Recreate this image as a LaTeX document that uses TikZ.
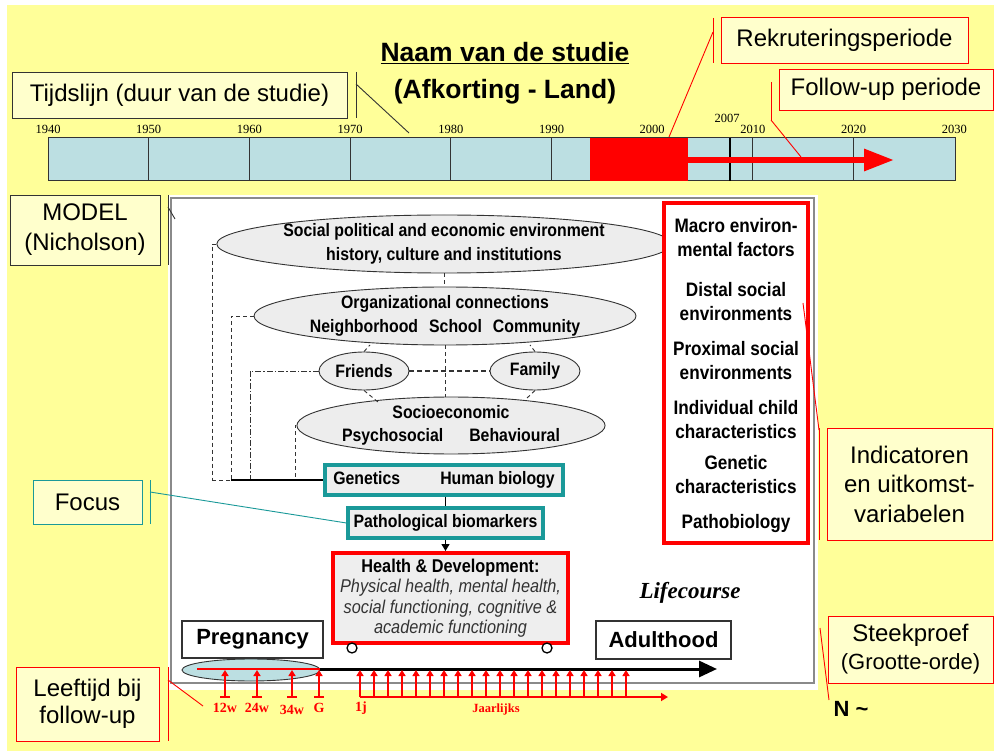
\documentclass[tikz,border=0pt]{standalone}
\usepackage{fontspec}
\setmainfont{Liberation Sans}
\newfontfamily\serifyr{Liberation Serif}
\newfontfamily\nar[FakeStretch=0.88]{Liberation Sans}
\usetikzlibrary{arrows.meta,shapes.geometric,calc}
\definecolor{bgyellow}{HTML}{FFFF99}
\definecolor{lblfill}{HTML}{FFFFCC}
\definecolor{barblue}{HTML}{BCDFE2}
\definecolor{tealc}{HTML}{1A9999}
\definecolor{ellgray}{HTML}{EDEDED}
\definecolor{boxgray}{HTML}{EEEEEE}
\definecolor{darkline}{HTML}{333333}
\definecolor{framegray}{HTML}{8A8A8A}
\definecolor{itgray}{HTML}{333333}
\newcommand{\hdit}[1]{{\color{itgray}\itshape #1}}
\tikzset{
 lbl/.style={draw=darkline, fill=lblfill, line width=0.9pt, inner sep=0pt, align=center, font=\fontsize{24}{29}\selectfont},
 lblred/.style={lbl, draw=red},
 lblteal/.style={lbl, draw=tealc},
 accent/.style={draw=darkline, line width=0.9pt},
 accred/.style={draw=red, line width=0.9pt},
 accteal/.style={draw=tealc, line width=0.9pt},
 ell/.style={ellipse, draw=darkline, fill=ellgray, line width=0.9pt, inner sep=0pt, align=center, font=\nar\bfseries\fontsize{18}{23.5}\selectfont},
 tealbox/.style={draw=tealc, line width=3.2pt, fill=boxgray, inner sep=0pt, font=\nar\bfseries\fontsize{18}{22}\selectfont},
 dsh/.style={draw=darkline, line width=0.9pt, dash pattern=on 4pt off 3pt},
 dshdot/.style={draw=darkline, line width=0.9pt, dash pattern=on 6pt off 2pt on 1.5pt off 2pt},
 rcol/.style={align=center, inner sep=0pt, font=\nar\bfseries\fontsize{19.5}{24}\selectfont},
 yr/.style={font=\serifyr\fontsize{12.5}{14}\selectfont, inner sep=0pt},
 redlbl/.style={text=red, font=\serifyr\bfseries\fontsize{14}{16}\selectfont, inner sep=0pt},
 uparr/.style={draw=red, line width=1.8pt, -{Triangle[length=6pt,width=7pt]}},
 lifebox/.style={draw=darkline, fill=white, line width=1.1pt, inner sep=0pt, font=\bfseries\fontsize{22}{26}\selectfont},
}
\begin{document}
\begin{tikzpicture}[x=1pt,y=-1pt]
\useasboundingbox (0,0) rectangle (994,751);
\fill[white] (0,0) rectangle (994,751);
\fill[bgyellow] (7,5) rectangle (994,751);

% title
\node[align=center, inner sep=0pt, font=\bfseries\fontsize{26.5}{37}\selectfont] (title) at (505,73) {\underline{Naam van de studie}\\(Afkorting - Land)};

% timeline
\node[draw=darkline, fill=barblue, line width=1pt, minimum width=907pt, minimum height=43pt, inner sep=0pt] (tl) at (501.5,159.5) {};
\foreach \i/\yy in {0/1940,1/1950,2/1960,3/1970,4/1980,5/1990,6/2000,7/2010,8/2020,9/2030} {
  \pgfmathsetmacro\xx{48+100.7*\i}
  \node[yr] (y\yy) at (\xx,129) {\yy};
}
\foreach \i in {1,...,8} {
  \pgfmathsetmacro\xx{48+100.7*\i}
  \coordinate (dt\i) at (\xx,138);
  \coordinate (db\i) at (\xx,181);
  \draw[darkline, line width=1pt] (dt\i) -- (db\i);
}
\node[fill=red, minimum width=98pt, minimum height=43pt, inner sep=0pt] (rec) at (639,159.5) {};
\coordinate (s7t) at (730,138);
\coordinate (s7b) at (730,181);
\draw[black, line width=2pt] (s7t) -- (s7b);
\node[yr] (y2007) at (727,118) {2007};
\coordinate (fuend) at (894,160);
\draw[red, line width=6pt, -{Triangle[length=30pt,width=21pt]}] (rec.east |- fuend) -- (fuend);

% callouts top
\node[lbl, minimum width=335pt, minimum height=46pt] (tij) at (179.5,95) {Tijdslijn (duur van de studie)};
\coordinate (tja) at (356,72); \coordinate (tjb) at (356,118);
\coordinate (tjc) at (356,84); \coordinate (tjd) at (409,133);
\draw[accent] (tja) -- (tjb);
\draw[accent] (tjc) -- (tjd);

\node[lblred, minimum width=247pt, minimum height=46pt] (rek) at (844.5,40) {Rekruteringsperiode};
\coordinate (rka) at (713,18); \coordinate (rkb) at (713,63);
\coordinate (rkc) at (713,32); \coordinate (rkd) at (669,137);
\draw[accred] (rka) -- (rkb);
\draw[accred] (rkc) -- (rkd);

\node[lblred, minimum width=214pt, minimum height=41pt] (fol) at (886,89.5) {Follow-up periode};
\coordinate (foa) at (771,82); \coordinate (fob) at (771,120);
\coordinate (fod) at (801,157);
\draw[accred] (foa) -- (fob);
\draw[accred] (fob) -- (fod);

% model frame
\node[fill=white, minimum width=650pt, minimum height=495pt, inner sep=0pt] (mwhite) at (493,442.5) {};
\node[draw=framegray, line width=1.2pt, minimum width=643pt, minimum height=485pt, inner sep=0pt] (mframe) at (492.5,440.5) {};

\node[lbl, minimum width=150pt, minimum height=70pt, font=\fontsize{24}{30}\selectfont] (mod) at (85,230) {MODEL\\(Nicholson)};
\coordinate (moa) at (168,195); \coordinate (mob) at (168,265);
\coordinate (moc) at (168,207); \coordinate (mod2) at (175,219);
\draw[accent] (moa) -- (mob);
\draw[accent] (moc) -- (mod2);

% ellipses
\node[ell, minimum width=432pt, minimum height=58pt] (e1) at (444,244) {Social political and economic environment\\history, culture and institutions};
\node[ell, minimum width=340pt, minimum height=58pt] (e2) at (445,316) {Organizational connections\\Neighborhood\hspace{11pt}School\hspace{11pt}Community};
\node[ell, minimum width=90pt, minimum height=38pt] (fr) at (364,371) {Friends};
\node[ell, minimum width=90pt, minimum height=38pt] (fa) at (535,371) {Family};
\node[ell, minimum width=308pt, minimum height=46pt] (so) at (451,425.5) {Socioeconomic\\Psychosocial\hspace{26pt}Behavioural};

% genetics etc
\node[tealbox, minimum width=238pt, minimum height=30pt] (gen) at (444,480) {Genetics\hspace{40pt}Human biology};
\node[tealbox, minimum width=195pt, minimum height=30pt] (pat) at (445.5,523) {Pathological biomarkers};
\node[draw=red, line width=4pt, fill=boxgray, minimum width=235pt, minimum height=90pt, inner sep=0pt, align=center, font=\nar\fontsize{18.5}{20.5}\selectfont] (hd) at (450.5,598) {{\bfseries Health \& Development:}\\\hdit{Physical health, mental health,}\\\hdit{social functioning, cognitive \&}\\\hdit{academic functioning}};

% dashed connectors
\coordinate (b1) at (212,480); \coordinate (b2) at (231,480);
\coordinate (b3) at (250,480); \coordinate (b4) at (295,480);
\draw[dsh] (e1.west) -| (b1);
\draw[dsh] (e2.west) -| (b2);
\draw[dshdot] (fr.west) -| (b3);
\draw[dsh] (so.west) -| (b4);
\draw[dsh] (b1) -- (b2);
\draw[black, line width=1.6pt] (b2) -- (gen.west);
\draw[dsh] (e1.south) -- (e1.south |- e2.north);
\draw[dsh] (e2.south) -- (e2.south |- so.north);
\draw[darkline, line width=1.4pt, dash pattern=on 5pt off 3pt] (fr.east) -- (fa.west);
\coordinate (s1) at (370,345); \coordinate (s2) at (530,345);
\coordinate (s3) at (378,402); \coordinate (s4) at (526,399);
\draw[dsh] (fr.north) -- (s1);
\draw[dsh] (fa.north) -- (s2);
\draw[dsh] (fr.south) -- (s3);
\draw[dsh] (fa.south) -- (s4);

\draw[black, line width=1.3pt] (pat.north |- gen.south) -- (pat.north);
\draw[black, line width=1.2pt, -{Triangle[length=7pt,width=8pt]}] (pat.south) -- (pat.south |- hd.north);

\node[circle, draw=black, fill=white, line width=1.3pt, minimum size=10pt, inner sep=0pt] (ca) at (352,648) {};
\node[circle, draw=black, fill=white, line width=1.3pt, minimum size=10pt, inner sep=0pt] (cb) at (547,648) {};

% right column
\node[draw=red, line width=4pt, fill=white, minimum width=144pt, minimum height=340pt, inner sep=0pt] (rc) at (736,373) {};
\node[rcol] (r1) at (736,238) {Macro environ-\\mental factors};
\node[rcol] (r2) at (736,301.5) {Distal social\\environments};
\node[rcol] (r3) at (736,361) {Proximal social\\environments};
\node[rcol] (r4) at (736,420) {Individual child\\characteristics};
\node[rcol] (r5) at (736,474.5) {Genetic\\characteristics};
\node[rcol] (r6) at (736,524) {Pathobiology};

\node[font=\serifyr\bfseries\itshape\fontsize{23}{26}\selectfont, inner sep=0pt] (lc) at (690,593) {Lifecourse};

\node[lifebox, minimum width=141pt, minimum height=37pt] (preg) at (252.5,639.5) {Pregnancy};
\node[lifebox, minimum width=135pt, minimum height=38pt] (adult) at (663.5,640) {Adulthood};

\node[ellipse, draw=darkline, fill=barblue, line width=0.9pt, minimum width=138pt, minimum height=22pt, inner sep=0pt] (bell) at (251,670) {};
\coordinate (lcend) at (717,669);
\draw[black, line width=3pt, -{Triangle[length=18pt,width=16pt]}] (bell.east |- lcend) -- (lcend);
\coordinate (rl0) at (197,669);
\draw[red, line width=2pt] (rl0) -- (bell.east |- rl0);

\foreach \xx/\lab/\ly [count=\k] in {225/12w/708, 257/24w/708, 292/34w/710, 319/G/708} {
  \coordinate (pb\k) at (\xx,698);
  \coordinate (pt\k) at (\xx,670);
  \draw[red, line width=1.8pt, {Bar[width=10pt]}-{Triangle[length=6pt,width=7pt]}] (pb\k) -- (pt\k);
  \node[redlbl] (pl\k) at (\xx,\ly) {\lab};
}
\foreach \k in {0,...,19} {
  \pgfmathsetmacro\xx{360+14*\k}
  \coordinate (jb\k) at (\xx,697);
  \coordinate (jt\k) at (\xx,670);
  \draw[uparr] (jb\k) -- (jt\k);
}
\coordinate (jend) at (668,697);
\draw[red, line width=1.8pt, -{Triangle[length=7pt,width=8pt]}] (jb0) -- (jend);
\node[redlbl] (l1j) at (361,708) {1j};
\node[redlbl, font=\serifyr\bfseries\fontsize{12.5}{14}\selectfont] (ljr) at (496,709) {Jaarlijks};

% left callouts
\node[lblteal, minimum width=109pt, minimum height=44pt] (foc) at (87.5,502) {Focus};
\coordinate (fca) at (150,480); \coordinate (fcb) at (150,524);
\coordinate (fcc) at (150,492);
\draw[accteal] (fca) -- (fcb);
\draw[accteal] (fcc) -- (pat.west);

\node[lblred, minimum width=143pt, minimum height=74pt, font=\fontsize{24}{27}\selectfont] (lft) at (87.5,704) {Leeftijd bij\\follow-up};
\coordinate (lfa) at (168,667); \coordinate (lfb) at (168,741);
\coordinate (lfc) at (168,680); \coordinate (lfd) at (203,706);
\draw[accred] (lfa) -- (lfb);
\draw[accred] (lfc) -- (lfd);

% right callouts
\node[lblred, minimum width=165pt, minimum height=112pt, font=\fontsize{24}{29.5}\selectfont] (ind) at (909.5,484) {Indicatoren\\en uitkomst-\\variabelen};
\coordinate (ina) at (819,428); \coordinate (inb) at (819,540);
\coordinate (inc) at (819,430); \coordinate (ind2) at (803,303);
\draw[accred] (ina) -- (inb);
\draw[accred] (inc) -- (ind2);

\node[lblred, minimum width=165pt, minimum height=67pt, font=\fontsize{24}{28}\selectfont] (stk) at (910.5,649.5) {Steekproef\\{\fontsize{22}{28}\selectfont(Grootte-orde)}};
\coordinate (ska) at (820,628); \coordinate (skb) at (829,700);
\draw[accred] (ska) -- (skb);
\node[font=\bfseries\fontsize{22}{26}\selectfont, inner sep=0pt] (nn) at (851,709) {N \textasciitilde};
\end{tikzpicture}
\end{document}
